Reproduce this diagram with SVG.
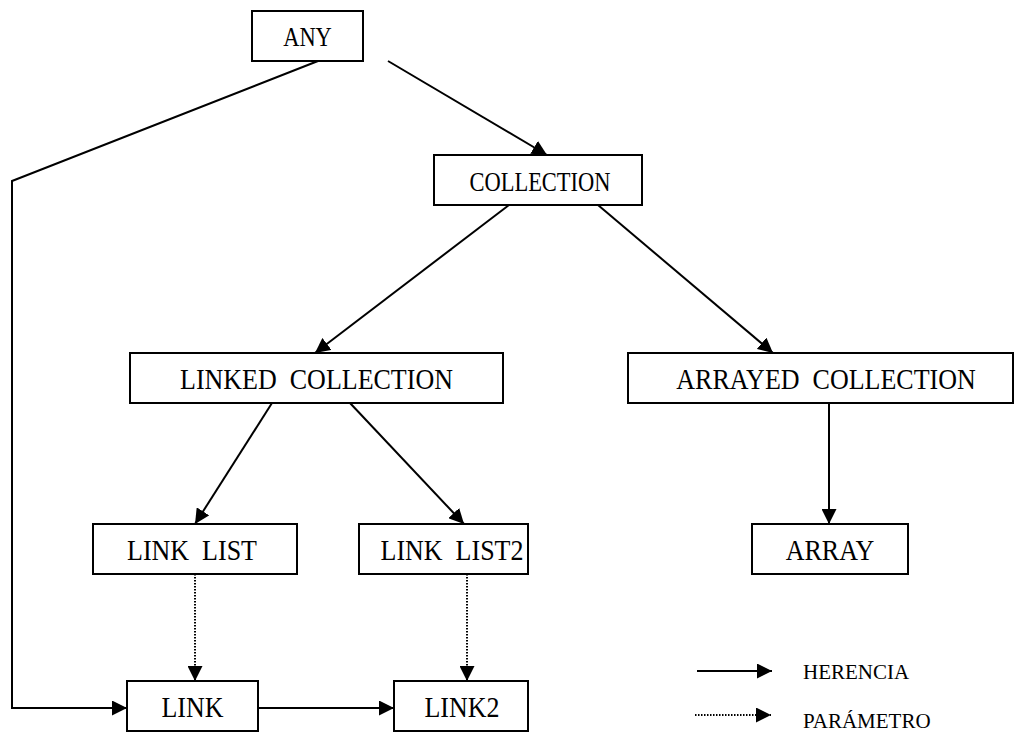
<svg xmlns="http://www.w3.org/2000/svg" width="1015" height="734" viewBox="0 0 1015 734">
<style>
.box{fill:#fff;stroke:#000;stroke-width:2}
.lbl{font-family:"Liberation Serif","Times New Roman",serif;font-size:26px;fill:#000;text-anchor:middle;white-space:pre}
.sm{font-size:22.5px}
.leg{font-family:"Liberation Serif","Times New Roman",serif;font-size:21px;fill:#000;white-space:pre}
.c{fill:none;stroke:#000;stroke-width:2}
.d{fill:none;stroke:#000;stroke-width:2;stroke-dasharray:1.5 1.5}
</style>
<defs>
<marker id="ah" viewBox="0 0 10 10" refX="10" refY="5" markerWidth="15" markerHeight="15" markerUnits="userSpaceOnUse" orient="auto"><path d="M0,0 L10,5 L0,10 z" fill="#000"/></marker>
</defs>
<g id="connectors">
<polyline class="c" points="318,61 12,181 12,708 127,708" marker-end="url(#ah)"/>
<line class="c" x1="388" y1="61" x2="547" y2="155" marker-end="url(#ah)"/>
<line class="c" x1="509" y1="205" x2="315" y2="353" marker-end="url(#ah)"/>
<line class="c" x1="598" y1="205" x2="773" y2="353" marker-end="url(#ah)"/>
<line class="c" x1="272" y1="403" x2="195" y2="524" marker-end="url(#ah)"/>
<line class="c" x1="350" y1="403" x2="464" y2="524" marker-end="url(#ah)"/>
<line class="c" x1="829" y1="403" x2="829" y2="524" marker-end="url(#ah)"/>
<line class="d" x1="195" y1="574" x2="195" y2="681" marker-end="url(#ah)"/>
<line class="d" x1="467" y1="574" x2="467" y2="681" marker-end="url(#ah)"/>
<line class="c" x1="258" y1="708" x2="394" y2="708" marker-end="url(#ah)"/>
</g>
<g id="node-any"><rect class="box" x="252" y="11" width="111" height="50"/><text class="lbl sm" transform="translate(307.5,46) scale(1,1.18)">ANY</text></g>
<g id="node-collection"><rect class="box" x="434" y="155" width="208" height="50"/><text class="lbl sm" transform="translate(540,191) scale(1,1.22)">COLLECTION</text></g>
<g id="node-linked-collection"><rect class="box" x="130" y="353" width="373" height="50"/><text class="lbl" transform="translate(316.5,389) scale(1,1.1)">LINKED  COLLECTION</text></g>
<g id="node-arrayed-collection"><rect class="box" x="628" y="353" width="385" height="50"/><text class="lbl" transform="translate(826,389) scale(1,1.1)">ARRAYED  COLLECTION</text></g>
<g id="node-link-list"><rect class="box" x="93" y="524" width="204" height="50"/><text class="lbl" transform="translate(192,560) scale(1,1.1)">LINK  LIST</text></g>
<g id="node-link-list2"><rect class="box" x="359" y="524" width="169" height="50"/><text class="lbl" transform="translate(452,560) scale(1,1.1)">LINK  LIST2</text></g>
<g id="node-array"><rect class="box" x="752" y="524" width="156" height="50"/><text class="lbl" transform="translate(830,560) scale(1,1.1)">ARRAY</text></g>
<g id="node-link"><rect class="box" x="127" y="681" width="131" height="50"/><text class="lbl" transform="translate(192.5,717) scale(1,1.1)">LINK</text></g>
<g id="node-link2"><rect class="box" x="394" y="681" width="134" height="50"/><text class="lbl" transform="translate(462,717) scale(1,1.1)">LINK2</text></g>
<g id="legend">
<line class="c" x1="697" y1="671" x2="772" y2="671" marker-end="url(#ah)"/>
<text class="leg" x="803" y="679">HERENCIA</text>
<line class="d" x1="695" y1="715" x2="771" y2="715" marker-end="url(#ah)"/>
<text class="leg" x="803" y="728">PARÁMETRO</text>
</g>
</svg>
